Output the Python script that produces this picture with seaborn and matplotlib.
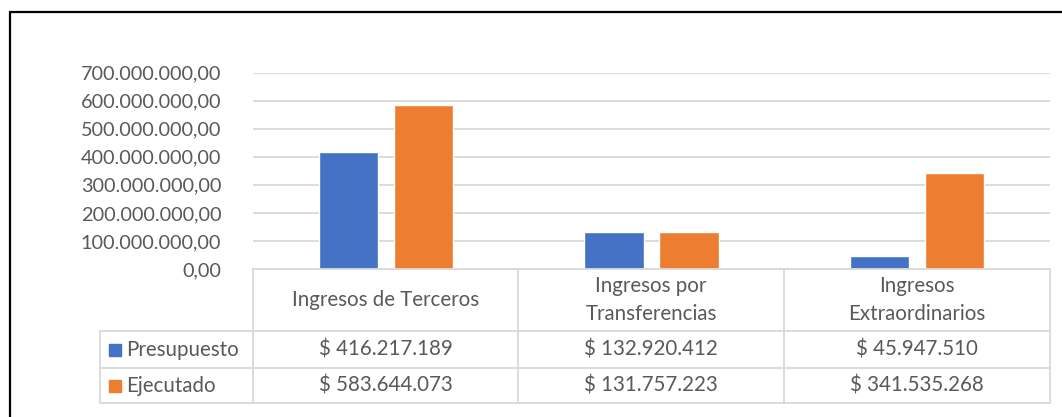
import matplotlib
matplotlib.use('Agg')
import matplotlib.pyplot as plt
from matplotlib.ticker import FuncFormatter
from matplotlib.lines import Line2D
from matplotlib.patches import Rectangle
import seaborn as sns
import pandas as pd

# data
categorias = ["Ingresos de Terceros", "Ingresos por\nTransferencias", "Ingresos\nExtraordinarios"]
series = ["Presupuesto", "Ejecutado"]
presupuesto = [416217189, 132920412, 45947510]
ejecutado = [583644073, 131757223, 341535268]
colores = ["#4472C4", "#ED7D31"]

TXT = "#595959"
GRID = "#D9D9D9"

sns.set_theme(style="white")
plt.rcParams['font.family'] = ['Lato', 'DejaVu Sans']

df = pd.DataFrame({
    'categoria': categorias * 2,
    'serie': [series[0]] * 3 + [series[1]] * 3,
    'valor': presupuesto + ejecutado,
})

W, H = 1062, 417
fig = plt.figure(figsize=(W / 100, H / 100), dpi=100)
fig.patch.set_facecolor('white')

# plot area in pixels
px_l, px_r, px_t, px_b = 253, 1050, 72.7, 269
ax = fig.add_axes([px_l / W, 1 - px_b / H, (px_r - px_l) / W, (px_b - px_t) / H])

sns.barplot(data=df, x='categoria', y='valor', hue='serie', palette=colores,
            width=0.565, gap=0.21, saturation=1, legend=False, ax=ax)

ax.set_ylim(0, 700e6)
ax.set_yticks(range(0, 700000001, 100000000))
ax.yaxis.set_major_formatter(FuncFormatter(
    lambda v, p: f"{v:,.2f}".replace(",", "X").replace(".", ",").replace("X", ".")))
ax.set_xlim(-0.5, 2.5)
ax.set_xticks([])
ax.set_xlabel('')
ax.set_ylabel('')
ax.tick_params(axis='y', length=0, pad=23, labelsize=14.3, labelcolor=TXT)
ax.yaxis.grid(True, color=GRID, linewidth=1.3)
ax.set_axisbelow(True)
for s in ['top', 'right', 'left']:
    ax.spines[s].set_visible(False)
ax.spines['bottom'].set_color(GRID)
ax.spines['bottom'].set_linewidth(1.3)

# overlay in pixel coords for the data table and the frame
ov = fig.add_axes([0, 0, 1, 1], facecolor='none')
ov.set_xlim(0, W)
ov.set_ylim(H, 0)
ov.axis('off')

cols = [253, 518, 784, 1050]
rows = [269, 331, 368, 403]
tbl_l = 100

def hline(y, x0, x1):
    ov.add_line(Line2D([x0, x1], [y, y], color=GRID, linewidth=1.3))

def vline(x, y0, y1):
    ov.add_line(Line2D([x, x], [y0, y1], color=GRID, linewidth=1.3))

for y in rows[1:]:
    hline(y, tbl_l, cols[-1])
vline(tbl_l, rows[1], rows[-1])
for x in cols:
    vline(x, rows[0], rows[-1])

fs = 14.8
for i, cat in enumerate(categorias):
    cx = (cols[i] + cols[i + 1]) / 2
    ov.text(cx, (rows[0] + rows[1]) / 2, cat, ha='center', va='center',
            fontsize=fs, color=TXT, linespacing=1.5)

def fmt_money(v):
    return "$ " + f"{v:,.0f}".replace(",", ".")

for r, (nombre, vals, col) in enumerate(zip(series, [presupuesto, ejecutado], colores)):
    cy = (rows[r + 1] + rows[r + 2]) / 2
    ov.add_patch(Rectangle((108.5, cy - 6), 12, 12, color=col))
    ov.text(126.5, cy, nombre, ha='left', va='center', fontsize=fs, color=TXT)
    for i, v in enumerate(vals):
        cx = (cols[i] + cols[i + 1]) / 2
        ov.text(cx, cy, fmt_money(v), ha='center', va='center', fontsize=fs, color=TXT)

# outer chart frame
ov.add_line(Line2D([9.5, W], [11.5, 11.5], color='black', linewidth=1.6))
ov.add_line(Line2D([9.5, 9.5], [11.5, H], color='black', linewidth=1.6))

fig.savefig('out.png', dpi=100, facecolor='white')
